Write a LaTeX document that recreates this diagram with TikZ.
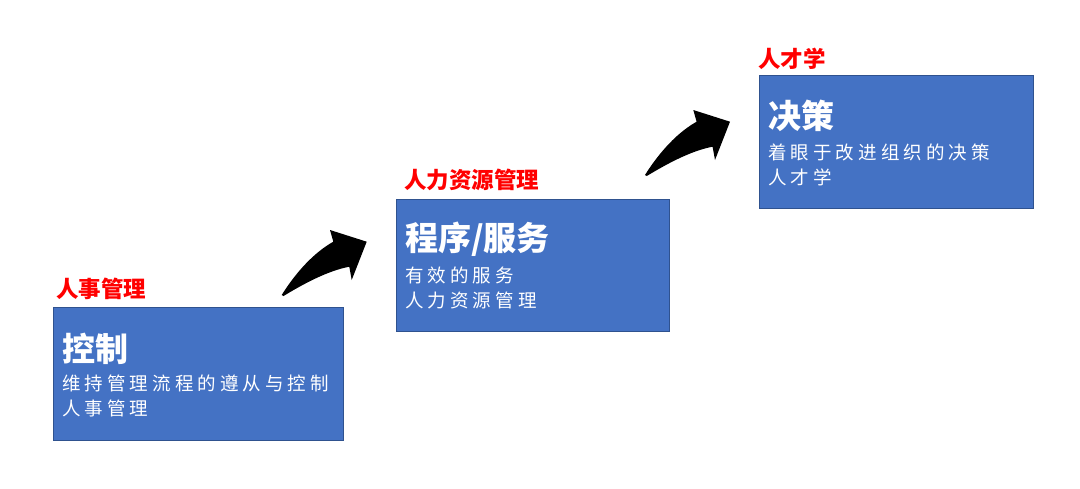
\documentclass[tikz,border=0pt]{standalone}
\usepackage{fontspec}
\newfontfamily\cjk{Noto Sans CJK SC}
\newfontfamily\cjksp{Noto Sans CJK SC}[LetterSpace=22]
\definecolor{boxblue}{HTML}{4472C4}
\definecolor{boxedge}{HTML}{2F528F}
\definecolor{labred}{HTML}{FF0000}
\tikzset{
  stagebox/.style={fill=boxblue, draw=boxedge, line width=0.8pt, anchor=north west, inner sep=0pt},
  titletext/.style={text=white, anchor=base west, inner sep=0pt, font=\cjk\bfseries\fontsize{33}{37}\selectfont},
  subtext/.style={text=white, anchor=base west, inner sep=0pt, font=\cjksp\fontsize{18.5}{24}\selectfont},
  labtext/.style={text=labred, anchor=base west, inner sep=0pt, font=\cjk\bfseries\fontsize{22.5}{26}\selectfont},
  bentarrow/.pic={\fill[black] (0,0) .. controls (10,-16) and (28,-40) .. (51.6,-53.3)
     -- (48.3,-65) -- (85,-53.3) -- (70,-15) -- (67.6,-28.3)
     .. controls (45,-24) and (20,-10) .. (1.8,1) -- cycle;}
}
\begin{document}
\begin{tikzpicture}[x=1pt,y=-1pt]
\useasboundingbox[fill=white] (0,0) rectangle (1080,488);
% boxes
\node[stagebox, minimum width=290pt, minimum height=133pt] (b1) at (53,307) {};
\node[stagebox, minimum width=273pt, minimum height=132pt] (b2) at (396,199) {};
\node[stagebox, minimum width=274pt, minimum height=133pt] (b3) at (759,75) {};
% red labels
\node[labtext] (l1) at (56,297) {人事管理};
\node[labtext] (l2) at (404,188.5) {人力资源管理};
\node[labtext] (l3) at (758,67) {人才学};
% box 1
\node[titletext] (t1) at ([xshift=9pt,yshift=-54pt]b1.north west) {控制};
\node[subtext] (s1a) at ([xshift=9pt,yshift=-83.5pt]b1.north west) {维持管理流程的遵从与控制};
\node[subtext] (s1b) at ([xshift=9pt,yshift=-108.5pt]b1.north west) {人事管理};
% box 2
\node[titletext] (t2) at ([xshift=9pt,yshift=-51pt]b2.north west) {程序/服务};
\node[subtext] (s2a) at ([xshift=9pt,yshift=-83pt]b2.north west) {有效的服务};
\node[subtext] (s2b) at ([xshift=9pt,yshift=-108pt]b2.north west) {人力资源管理};
% box 3
\node[titletext] (t3) at ([xshift=9pt,yshift=-53pt]b3.north west) {决策};
\node[subtext] (s3a) at ([xshift=9pt,yshift=-84pt]b3.north west) {着眼于改进组织的决策};
\node[subtext] (s3b) at ([xshift=9pt,yshift=-109pt]b3.north west) {人才学};
% arrows
\coordinate (a1) at (281.7,295);
\coordinate (a2) at (645,175);
\pic at (a1) {bentarrow};
\pic at (a2) {bentarrow};
\end{tikzpicture}
\end{document}
